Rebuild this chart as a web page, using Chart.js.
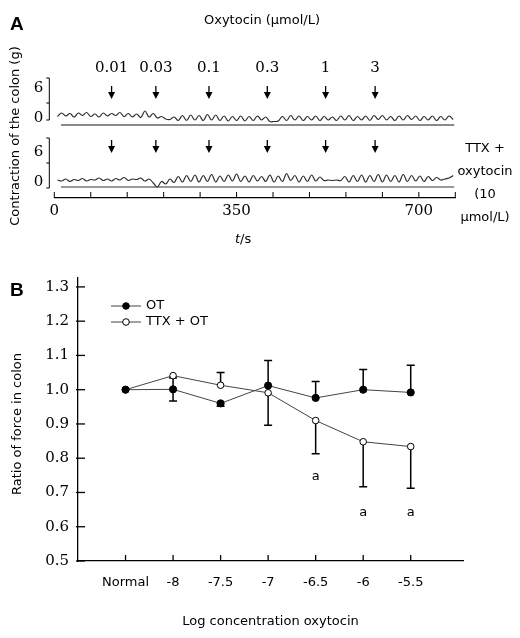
<!DOCTYPE html>
<html>
<head>
<meta charset="utf-8">
<script src="https://cdn.jsdelivr.net/npm/chart.js@4"></script>
<style>
  html, body { margin: 0; padding: 0; background: #fff; }
  #wrap { position: relative; width: 520px; height: 638px; }
  canvas { position: absolute; left: 0; top: 0; }
</style>
</head>
<body>
<div id="wrap">
  <canvas id="chartA" width="520" height="638"></canvas>
  <canvas id="chartB" width="520" height="638"></canvas>
</div>
<script>
// ---- panel A: recorded traces (g) ----
const traceTime = [6,14,22,30,38,46,54,62,70,78,86,94,102,110,118,126,134,142,150,158,166,174,182,190,198,206,214,222,230,238,246,254,262,270,278,286,294,302,310,318,326,334,342,350,358,366,374,382,390,398,406,414,422,430,438,446,454,462,470,478,486,494,502,510,518,526,534,542,550,558,566,574,582,590,598,606,614,622,630,638,646,654,662,670,678,686,694,702,710,718,726,734,742,750,758,766];
const traceOT = [0.3,1.0,0.4,0.9,0.2,1.0,0.5,1.1,0.3,0.8,0.2,1.0,0.4,0.9,0.5,1.1,0.3,0.9,0.2,0.8,0.1,1.4,0.2,0.9,0.0,0.3,-0.2,
  -0.3,0.2,-0.5,0.5,-0.5,0.6,-0.4,0.5,-0.5,0.7,-0.4,0.6,-0.5,0.4,-0.6,0.3,-0.5,0.4,-0.6,0.3,-0.5,0.4,-0.4,0.2,-0.7,
  -0.7,-0.6,0.3,-0.5,0.5,-0.4,0.4,-0.5,0.3,-0.4,0.4,-0.5,0.3,-0.4,0.2,-0.5,0.4,-0.4,0.5,-0.5,0.3,-0.4,0.4,-0.5,0.5,
  -0.3,0.5,-0.4,0.3,-0.5,0.4,-0.4,0.5,-0.3,0.4,-0.5,0.3,-0.4,0.4,-0.5,0.3,-0.4,0.4,-0.3];
const traceTTX = [0.4,0.2,0.6,0.1,0.5,0.3,0.7,0.2,0.5,0.4,0.8,0.3,0.6,0.2,0.7,0.4,0.9,0.3,0.6,0.5,0.8,0.2,0.6,-0.2,-1.0,0.1,-0.4,0.6,-0.1,
  1.1,0.0,1.3,0.1,1.4,0.0,1.3,0.1,1.5,0.0,1.2,0.1,1.4,0.2,1.6,0.1,1.2,0.0,1.3,0.2,1.1,0.1,1.4,0.0,1.2,0.1,1.7,0.3,1.3,0.0,
  1.2,0.1,1.4,0.2,1.0,0.3,0.4,0.3,0.4,0.3,1.1,0.0,1.3,0.1,1.4,0.0,1.3,0.1,1.5,0.0,1.4,0.1,1.3,0.0,1.5,0.1,1.3,0.2,1.2,0.1,
  1.1,0.3,0.9,0.4,0.6,0.8,1.3];
const baseTime = [13, 768];
const baseOT = [-1.4, -1.4];
const baseTTX = [-1.0, -1.0];
const doseTimes = [110, 195, 297, 409, 521, 616];
const doseLabels = ['0.01', '0.03', '0.1', '0.3', '1', '3'];
const timeLabels = [0, 350, 700];

// ---- panel B: ratio of force ----
const concLabels = ['Normal', '-8', '-7.5', '-7', '-6.5', '-6', '-5.5'];
const otMean = [1.0, 1.001, 0.960, 1.012, 0.976, 1.0, 0.992];
const otErrUp = [0, 0.033, 0, 0.073, 0.048, 0.059, 0.079];
const otErrDown = [0, 0.034, 0.008, 0, 0, 0, 0];
const ttxMean = [1.0, 1.041, 1.013, 0.991, 0.910, 0.848, 0.834];
const ttxErrUp = [0, 0, 0.037, 0, 0, 0, 0];
const ttxErrDown = [0, 0, 0, 0.095, 0.097, 0.131, 0.122];
const sigText = ['', '', '', '', 'a', 'a', 'a'];
const sigAt = [null, null, null, null, 0.745, 0.64, 0.64];
const yTicksB = [0.5, 0.6, 0.7, 0.8, 0.9, 1.0, 1.1, 1.2, 1.3];

const SANS = '"DejaVu Sans", Verdana, sans-serif';
const SERIF = '"DejaVu Serif", serif';

function pts(xs, ys) { return xs.map((x, i) => ({ x: x, y: ys[i] })); }

function arrowDown(ctx, x, y0, y1) {
  ctx.beginPath(); ctx.moveTo(x, y0); ctx.lineTo(x, y1 - 5); ctx.stroke();
  ctx.beginPath(); ctx.moveTo(x - 3.5, y1 - 7); ctx.lineTo(x + 3.5, y1 - 7); ctx.lineTo(x, y1); ctx.closePath(); ctx.fill();
}

const panelADecor = {
  id: 'panelADecor',
  afterDraw(chart) {
    const { ctx, chartArea: ca, scales } = chart;
    const xs = scales.x;
    ctx.save();
    ctx.fillStyle = '#000';
    ctx.strokeStyle = '#000';
    ctx.lineWidth = 1.3;

    ctx.font = 'bold 19px "Liberation Sans", Arial, sans-serif';
    ctx.textAlign = 'left'; ctx.textBaseline = 'middle';
    ctx.fillText('A', 10, 25);

    ctx.font = '13px ' + SANS;
    ctx.textAlign = 'center';
    ctx.fillText('Oxytocin (\u03bcmol/L)', 262, 21);

    // dose labels + arrows
    ctx.font = '15px ' + SERIF;
    doseTimes.forEach((t, i) => {
      const px = xs.getPixelForValue(t);
      ctx.fillText(doseLabels[i], px, 68);
      arrowDown(ctx, px, 86, 99);
      arrowDown(ctx, px, 140, 153);
    });

    // scale bars for the two traces
    [['y1', -0.4, 8, 3], ['y2', -1.2, 8.8, 3.8]].forEach(([id, lo, hi, mid]) => {
      const s = scales[id];
      const bx = ca.left - 5;
      const yl = s.getPixelForValue(lo), yh = s.getPixelForValue(hi), ym = s.getPixelForValue(mid);
      ctx.lineWidth = 1;
      ctx.beginPath();
      ctx.moveTo(bx - 3, yh); ctx.lineTo(bx, yh); ctx.lineTo(bx, yl); ctx.lineTo(bx - 3, yl);
      ctx.moveTo(bx - 3, ym); ctx.lineTo(bx, ym);
      ctx.stroke();
      ctx.font = '15px ' + SERIF;
      ctx.textAlign = 'right';
      ctx.fillText('6', bx - 6, s.getPixelForValue(6));
      ctx.fillText('0', bx - 6, s.getPixelForValue(0));
    });

    // inward ticks on the time axis
    ctx.lineWidth = 1;
    xs.ticks.forEach(tk => {
      const px = xs.getPixelForValue(tk.value);
      ctx.beginPath(); ctx.moveTo(px, ca.bottom); ctx.lineTo(px, ca.bottom - 6); ctx.stroke();
    });

    // right-hand label
    ctx.font = '13px ' + SANS;
    ctx.textAlign = 'center';
    ['TTX +', 'oxytocin', '(10', '\u03bcmol/L)'].forEach((s, i) => ctx.fillText(s, 485, 149 + i * 23));

    // t/s
    ctx.textAlign = 'left';
    ctx.font = 'italic 13px ' + SANS;
    ctx.fillText('t', 235, 240);
    const tw = ctx.measureText('t').width;
    ctx.font = '13px ' + SANS;
    ctx.fillText('/s', 235 + tw, 240);

    // y title
    ctx.translate(16, 136);
    ctx.rotate(-Math.PI / 2);
    ctx.textAlign = 'center';
    ctx.fillText('Contraction of the colon (g)', 0, 0);
    ctx.restore();
  }
};

new Chart(document.getElementById('chartA'), {
  type: 'line',
  data: {
    datasets: [
      { data: pts(traceTime, traceOT), yAxisID: 'y1', borderColor: '#2e2e2e', borderWidth: 1.2, tension: 0.4, pointRadius: 0 },
      { data: pts(traceTime, traceTTX), yAxisID: 'y2', borderColor: '#2e2e2e', borderWidth: 1.2, tension: 0.4, pointRadius: 0 },
      { data: pts(baseTime, baseOT), yAxisID: 'y1', borderColor: '#8a8a8a', borderWidth: 2, pointRadius: 0 },
      { data: pts(baseTime, baseTTX), yAxisID: 'y2', borderColor: '#333', borderWidth: 1, pointRadius: 0 }
    ]
  },
  options: {
    responsive: false,
    animation: false,
    devicePixelRatio: 1,
    layout: { padding: { left: 54.3, right: 64.7, top: 76, bottom: 410 } },
    plugins: { legend: { display: false }, tooltip: { enabled: false } },
    scales: {
      x: {
        type: 'linear', min: 0, max: 770,
        afterFit: s => { s.height = 30; },
        ticks: {
          stepSize: 70, padding: 4, color: '#000', maxRotation: 0, autoSkip: false,
          font: { family: SERIF, size: 15 },
          callback: v => timeLabels.includes(v) ? String(v) : ''
        },
        grid: { display: true, drawOnChartArea: false, drawTicks: false },
        border: { color: '#000', width: 1.3 }
      },
      y1: { display: false, min: -16, max: 8.4 },
      y2: { display: false, min: -3.2, max: 21.2 }
    }
  },
  plugins: [panelADecor]
});

// ---- panel B ----
const panelBDecor = {
  id: 'panelBDecor',
  beforeDatasetsDraw(chart) {
    const { ctx, scales: { x, y } } = chart;
    ctx.save();
    ctx.strokeStyle = '#000';
    ctx.lineWidth = 1.5;
    const bars = [[otMean, otErrUp, otErrDown], [ttxMean, ttxErrUp, ttxErrDown]];
    bars.forEach(([m, up, dn]) => {
      m.forEach((v, i) => {
        const px = x.getPixelForValue(i);
        [[up[i], 1], [dn[i], -1]].forEach(([e, sgn]) => {
          if (!e) return;
          const y0 = y.getPixelForValue(v), y1 = y.getPixelForValue(v + sgn * e);
          ctx.beginPath();
          ctx.moveTo(px, y0); ctx.lineTo(px, y1);
          ctx.moveTo(px - 4, y1); ctx.lineTo(px + 4, y1);
          ctx.stroke();
        });
      });
    });
    ctx.restore();
  },
  afterDraw(chart) {
    const { ctx, chartArea: ca, scales: { x, y } } = chart;
    ctx.save();
    ctx.strokeStyle = '#000';
    ctx.fillStyle = '#000';
    ctx.lineWidth = 1.3;
    // inward ticks
    yTicksB.forEach(v => {
      const py = y.getPixelForValue(v);
      ctx.beginPath(); ctx.moveTo(ca.left - 2, py); ctx.lineTo(ca.left + 7, py); ctx.stroke();
    });
    concLabels.forEach((_, i) => {
      const px = x.getPixelForValue(i);
      ctx.beginPath(); ctx.moveTo(px, ca.bottom); ctx.lineTo(px, ca.bottom - 6); ctx.stroke();
    });

    // significance marks
    ctx.font = '13px ' + SANS;
    ctx.textAlign = 'center'; ctx.textBaseline = 'middle';
    sigText.forEach((s, i) => {
      if (s) ctx.fillText(s, x.getPixelForValue(i), y.getPixelForValue(sigAt[i]));
    });

    // legend
    const legendRows = [['OT', '#000'], ['TTX + OT', '#fff']];
    legendRows.forEach(([name, fill], i) => {
      const ly = 306 + i * 16;
      ctx.strokeStyle = '#444'; ctx.lineWidth = 1;
      ctx.beginPath(); ctx.moveTo(111, ly); ctx.lineTo(141, ly); ctx.stroke();
      ctx.beginPath(); ctx.arc(126, ly, 3.3, 0, Math.PI * 2);
      ctx.fillStyle = fill; ctx.fill();
      ctx.strokeStyle = '#000'; ctx.stroke();
      ctx.fillStyle = '#000';
      ctx.textAlign = 'left';
      ctx.fillText(name, 146, ly);
    });

    ctx.font = 'bold 19px "Liberation Sans", Arial, sans-serif';
    ctx.fillText('B', 10, 291);

    ctx.font = '13px ' + SANS;
    ctx.textAlign = 'center';
    ctx.fillText('Log concentration oxytocin', (ca.left + ca.right) / 2, 622);
    ctx.translate(18, 424);
    ctx.rotate(-Math.PI / 2);
    ctx.fillText('Ratio of force in colon', 0, 0);
    ctx.restore();
  }
};

new Chart(document.getElementById('chartB'), {
  type: 'line',
  data: {
    datasets: [
      {
        label: 'OT', data: pts(concLabels.map((_, i) => i), otMean),
        borderColor: '#444', borderWidth: 1, tension: 0,
        pointRadius: 3.6, pointBackgroundColor: '#000', pointBorderColor: '#000', pointBorderWidth: 1
      },
      {
        label: 'TTX + OT', data: pts(concLabels.map((_, i) => i), ttxMean),
        borderColor: '#444', borderWidth: 1, tension: 0,
        pointRadius: 3.3, pointBackgroundColor: '#fff', pointBorderColor: '#000', pointBorderWidth: 1
      }
    ]
  },
  options: {
    responsive: false,
    animation: false,
    devicePixelRatio: 1,
    layout: { padding: { left: 0, right: 57, top: 278, bottom: 17 } },
    plugins: { legend: { display: false }, tooltip: { enabled: false } },
    scales: {
      x: {
        type: 'linear', min: -1, max: 7.1,
        afterFit: s => { s.height = 60; },
        afterBuildTicks: s => { s.ticks = concLabels.map((_, i) => ({ value: i })); },
        ticks: {
          padding: 14, color: '#000', maxRotation: 0, autoSkip: false,
          font: { family: SANS, size: 13 },
          callback: (v, i) => concLabels[i]
        },
        grid: { display: true, drawOnChartArea: false, drawTicks: false },
        border: { color: '#000', width: 1.3 }
      },
      y: {
        min: 0.5, max: 1.326,
        afterFit: s => { s.width = 78; },
        afterBuildTicks: s => { s.ticks = yTicksB.map(v => ({ value: v })); },
        ticks: {
          padding: 9, color: '#000',
          font: { family: SERIF, size: 15 },
          callback: v => v.toFixed(1)
        },
        grid: { display: true, drawOnChartArea: false, drawTicks: false },
        border: { color: '#000', width: 1.3 }
      }
    }
  },
  plugins: [panelBDecor]
});
</script>
</body>
</html>
